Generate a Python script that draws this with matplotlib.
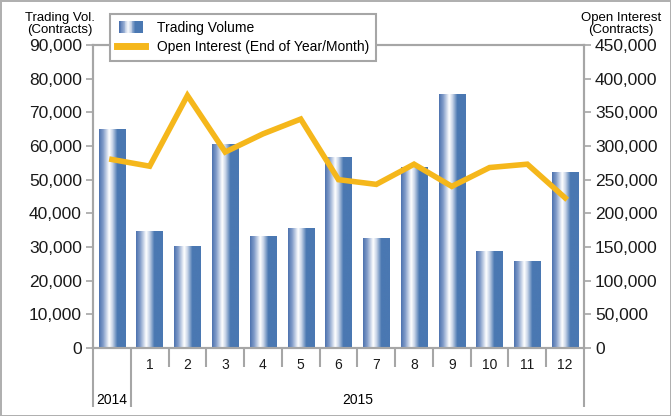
import matplotlib
matplotlib.use("Agg")
import matplotlib.pyplot as plt
import numpy as np
from matplotlib.colors import LinearSegmentedColormap
from matplotlib.legend_handler import HandlerBase
from matplotlib.patches import Rectangle
from matplotlib.lines import Line2D
import matplotlib.transforms as mtransforms

plt.rcParams['font.family'] = ['Liberation Sans', 'DejaVu Sans']

# data
periods = ["", "1", "2", "3", "4", "5", "6", "7", "8", "9", "10", "11", "12"]
years = ["2014", "2015"]
volume = [64800, 34500, 30000, 60300, 33000, 35400, 56700, 32400, 53500, 75300, 28800, 25800, 52000]
open_interest = [280000, 270000, 375000, 291000, 318000, 340000, 250000, 243000, 273000, 240000, 268000, 273000, 223000]

blue = "#4a78b2"
gold = "#f5b71b"
gray = "#a6a6a6"

cmap = LinearSegmentedColormap.from_list(
    "bar", [(0, "#4d72ae"), (0.15, "#7f9ac8"), (0.38, "#ffffff"),
            (0.5, "#c9d5e8"), (0.68, blue), (1, blue)])
grad = np.linspace(0, 1, 256).reshape(1, -1)

fig = plt.figure(figsize=(6.71, 4.16), dpi=100)
fig.patch.set_edgecolor("#b0b0b0")
fig.patch.set_linewidth(2)
ax = fig.add_axes([93 / 671, 1 - 348 / 416, (584 - 93) / 671, (348 - 45) / 416])
ax2 = ax.twinx()

x = np.arange(len(volume))
bars = ax.bar(x, volume, width=0.7, color="none", edgecolor="none", zorder=2)
for b in bars:
    ax.imshow(grad, cmap=cmap, aspect="auto", zorder=2,
              extent=[b.get_x(), b.get_x() + b.get_width(), 0, b.get_height()])

ax.set_xlim(-0.5, len(volume) - 0.5)
ax.set_ylim(0, 90000)
ax.set_yticks(np.arange(0, 90001, 10000))
ax.set_yticklabels([f"{v:,}" for v in range(0, 90001, 10000)])

ax2.plot(x, open_interest, color=gold, lw=4, solid_joinstyle="miter", zorder=3)
ax2.set_ylim(0, 450000)
ax2.set_yticks(np.arange(0, 450001, 50000))
ax2.set_yticklabels([f"{v:,}" for v in range(0, 450001, 50000)])

for a in (ax, ax2):
    for s in a.spines.values():
        s.set_color(gray)
        s.set_linewidth(1.5)
    a.tick_params(axis="y", colors=gray, labelcolor="#1a1a1a", labelsize=12.5,
                  length=5, width=1.2, pad=3)

ax.set_xticks(x)
ax.set_xticklabels(periods, fontsize=10, color="#1a1a1a")
ax.tick_params(axis="x", length=0, pad=7)

# category separators below the axis
trans = mtransforms.blended_transform_factory(ax.transData, ax.transAxes)
for i in range(len(volume) + 1):
    pos = i - 0.5
    long_line = i in (0, 1, len(volume))
    bottom = -59 / 303 if long_line else -19 / 303
    ax.plot([pos, pos], [0, bottom], transform=trans, color=gray, lw=1.5,
            clip_on=False, solid_capstyle="butt")
ax.text(0, -52 / 303, years[0], transform=trans, ha="center", va="center", fontsize=10)
ax.text((1 + len(volume) - 1) / 2, -52 / 303, years[1], transform=trans,
        ha="center", va="center", fontsize=10)

fig.text(60 / 671, 1 - 24 / 416, "Trading Vol.\n(Contracts)", ha="center", va="center",
         fontsize=9.5, linespacing=0.95)
fig.text(621 / 671, 1 - 24 / 416, "Open Interest\n(Contracts)", ha="center", va="center",
         fontsize=9.5, linespacing=0.95)


class GradientHandler(HandlerBase):
    def create_artists(self, legend, orig_handle, xdescent, ydescent, width, height, fontsize, trans):
        n = 30
        arts = []
        w = width * 0.85 / n
        x0 = -xdescent + width * 0.075
        for k in range(n):
            r = Rectangle((x0 + k * w, -ydescent - 1), w * 1.05, height + 2,
                          facecolor=cmap(k / (n - 1)), edgecolor="none", transform=trans)
            arts.append(r)
        return arts


bar_handle = Rectangle((0, 0), 1, 1)
line_handle = Line2D([0], [0], color=gold, lw=5)
leg = ax2.legend([bar_handle, line_handle],
                 ["Trading Volume", "Open Interest (End of Year/Month)"],
                 handler_map={Rectangle: GradientHandler()},
                 loc="upper left", bbox_to_anchor=(17 / 491, 1 + 31 / 303),
                 fontsize=10, frameon=True, fancybox=False, framealpha=1,
                 edgecolor=gray, borderpad=0.5, handlelength=2.0, handletextpad=0.9,
                 labelspacing=0.35, borderaxespad=0)
leg.get_frame().set_linewidth(1.5)
leg.set_zorder(10)

fig.savefig("out.png", dpi=100)
